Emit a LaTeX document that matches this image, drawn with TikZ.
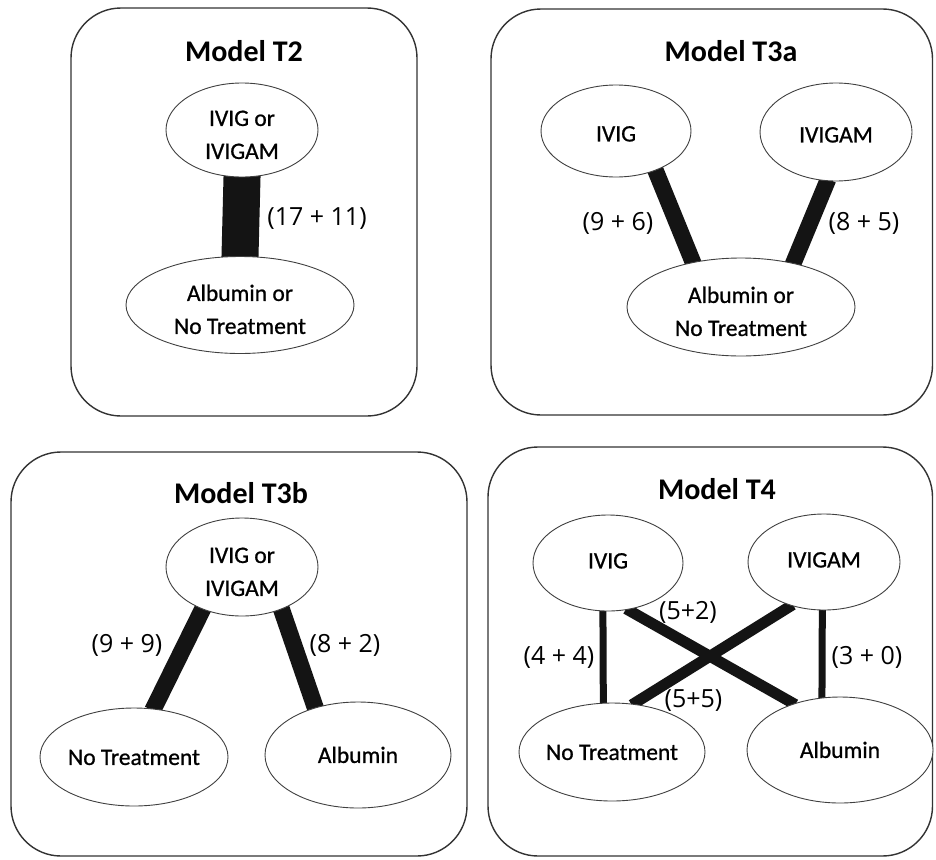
\documentclass[tikz,border=0pt]{standalone}
\usepackage{fontspec}
\setmainfont{Carlito}
\newfontfamily\ovalfont[FakeBold=0.8]{Carlito}
\newfontfamily\numfont{Open Sans}
\usetikzlibrary{shapes.geometric}
\pgfdeclarelayer{bg}
\pgfdeclarelayer{edges}
\pgfsetlayers{bg,edges,main}
\begin{document}
\begin{tikzpicture}[x=1pt,y=-1pt,
  panel/.style={draw=black!80, line width=1.4pt, rounded corners=50pt},
  oval/.style={ellipse, draw=black!75, line width=0.9pt, fill=white, inner sep=0pt,
    inner xsep=-4pt, align=center, font=\ovalfont\fontsize{23.5}{33}\selectfont,
    text height=16pt},
  oval2/.style={oval, text height=58pt},
  ttl/.style={anchor=base, font=\fontsize{30}{36}\selectfont\bfseries},
  count/.style={font=\numfont\fontsize{25}{30}\selectfont, inner sep=0pt},
  conn/.style={line width=#1, draw=black!92, shorten <=-2pt, shorten >=-2pt}]
\useasboundingbox (0,0) rectangle (936,859);
\begin{pgfonlayer}{bg}
  \fill[white] (0,0) rectangle (936,859);
\end{pgfonlayer}

% panels
\draw[panel] (71,8) rectangle (417,416);
\draw[panel] (491,9) rectangle (932.5,415);
\draw[panel] (11,452) rectangle (467,856);
\draw[panel] (488,447) rectangle (932.5,856);

% ---- Model T2
\node[ttl] (t2title) at (244,61) {Model T2};
\node[oval2, minimum width=152pt, minimum height=94pt] (t2a) at (242,130) {IVIG or\\IVIGAM};
\node[oval2, minimum width=228pt, minimum height=97pt] (t2b) at (240,305) {Albumin or\\No Treatment};
\node[count] (t2l) at (317,219) {(17 + 11)};

% ---- Model T3a
\node[ttl] (t3atitle) at (731,61) {Model T3a};
\node[oval, text height=21pt, minimum width=150pt, minimum height=92pt] (aivig) at (616,131) {IVIG};
\node[oval, text height=21pt, minimum width=152pt, minimum height=98pt] (aivigam) at (836,132) {IVIGAM};
\node[oval2, minimum width=228pt, minimum height=98pt] (aalb) at (741,307) {Albumin or\\No Treatment};
\node[count] (al1) at (618,223) {(9 + 6)};
\node[count] (al2) at (864,223) {(8 + 5)};

% ---- Model T3b
\node[ttl] (t3btitle) at (241,503) {Model T3b};
\node[oval2, minimum width=152pt, minimum height=98pt] (btop) at (242,567) {IVIG or\\IVIGAM};
\node[oval, minimum width=188pt, minimum height=98pt] (bnt) at (134,757) {No Treatment};
\node[oval, minimum width=186pt, minimum height=106pt] (balb) at (358,755) {Albumin};
\node[count] (bl1) at (127,645) {(9 + 9)};
\node[count] (bl2) at (345,645) {(8 + 2)};

% ---- Model T4
\node[ttl] (t4title) at (717,499) {Model T4};
\node[oval, text height=11pt, minimum width=150pt, minimum height=96pt] (divig) at (608,563) {IVIG};
\node[oval, text height=11pt, minimum width=152pt, minimum height=96pt] (divigam) at (824,562) {IVIGAM};
\node[oval, minimum width=186pt, minimum height=98pt] (dnt) at (612,752) {No Treatment};
\node[oval, minimum width=186pt, minimum height=106pt] (dalb) at (840,750) {Albumin};
\node[count] (dl1) at (688,612.5) {(5+2)};
\node[count] (dl2) at (559,657.5) {(4 + 4)};
\node[count] (dl3) at (867,657.5) {(3 + 0)};
\node[count] (dl4) at (693.5,700.5) {(5+5)};

% connectors (behind the ovals)
\begin{pgfonlayer}{edges}
  \draw[conn=37pt] (t2a.south) -- (t2b.north);
  \draw[conn=16.5pt] (aivig.-45) -- (aalb.137);
  \draw[conn=16.5pt] (aivigam.-100) -- (aalb.40);
  \draw[conn=17pt] (btop.-133) -- (bnt.68);
  \draw[conn=17pt] (btop.-47) -- (balb.132);
  \draw[conn=7pt] (divig.-96) -- (dnt.100);
  \draw[conn=7pt] (divigam.-92) -- (dalb.109);
  \draw[conn=11pt] (divig.-67) -- (dalb.135);
  \draw[conn=11pt] (divigam.-127) -- (dnt.66);
\end{pgfonlayer}
\end{tikzpicture}
\end{document}
